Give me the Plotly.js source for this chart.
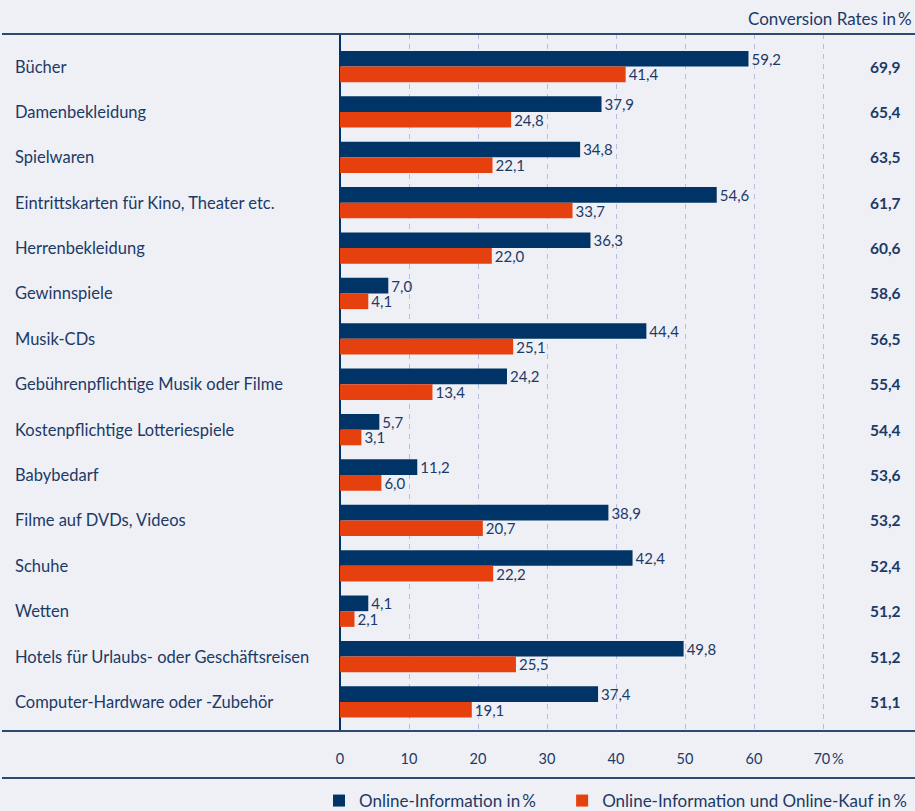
<!DOCTYPE html>
<html>
<head>
<meta charset="utf-8">
<script src="https://cdn.plot.ly/plotly-3.0.1.min.js"></script>
<style>
  html, body { margin: 0; padding: 0; background: #eff0f6; }
  #graph { width: 915px; height: 811px; }
</style>
</head>
<body>
<div id="graph"></div>
<script>
// カテゴリ
const categories = [
  "Bücher",
  "Damenbekleidung",
  "Spielwaren",
  "Eintrittskarten für Kino, Theater etc.",
  "Herrenbekleidung",
  "Gewinnspiele",
  "Musik-CDs",
  "Gebührenpflichtige Musik oder Filme",
  "Kostenpflichtige Lotteriespiele",
  "Babybedarf",
  "Filme auf DVDs, Videos",
  "Schuhe",
  "Wetten",
  "Hotels für Urlaubs- oder Geschäftsreisen",
  "Computer-Hardware oder -Zubehör"
];

// 系列の値
const infoValues = [59.2, 37.9, 34.8, 54.6, 36.3, 7.0, 44.4, 24.2, 5.7, 11.2, 38.9, 42.4, 4.1, 49.8, 37.4];
const kaufValues = [41.4, 24.8, 22.1, 33.7, 22.0, 4.1, 25.1, 13.4, 3.1, 6.0, 20.7, 22.2, 2.1, 25.5, 19.1];
const conversionRates = [69.9, 65.4, 63.5, 61.7, 60.6, 58.6, 56.5, 55.4, 54.4, 53.6, 53.2, 52.4, 51.2, 51.2, 51.1];

// 目盛り
const tickValues = [0, 10, 20, 30, 40, 50, 60, 70];
const tickLabels = ["0", "10", "20", "30", "40", "50", "60", "\u00a0\u00a0\u00a070\u2009%"];

// 色とフォント
const NAVY = "#003466";
const ORANGE = "#e6400e";
const TEXT = "#1c3a66";
const LINE = "#2c4a70";
const FONT = "Lato, 'Open Sans', sans-serif";

// 数値をドイツ式に整形
function fmt(v) {
  return v.toFixed(1).replace(".", ",");
}

document.addEventListener("DOMContentLoaded", () => {
  const graphDiv = document.getElementById("graph");

  // プロット領域の寸法
  const W = 915, H = 811;
  const mL = 340, mR = 0, mT = 34, mB = 80;
  const plotW = W - mL - mR;
  const plotH = H - mT - mB;
  const pxPerUnit = 6.9;

  const traceInfo = {
    type: "bar",
    orientation: "h",
    // 凡例の間隔を空けるため末尾に空白
    name: "Online-Information in\u2009%\u2003\u2002",
    y: categories,
    x: infoValues,
    marker: { color: NAVY },
    text: infoValues.map(fmt),
    textposition: "outside",
    constraintext: "none",
    cliponaxis: false,
    textfont: { color: TEXT, size: 15, family: FONT },
    hoverinfo: "skip"
  };

  const traceKauf = {
    type: "bar",
    orientation: "h",
    name: "Online-Information und Online-Kauf in\u2009%",
    y: categories,
    x: kaufValues,
    marker: { color: ORANGE },
    text: kaufValues.map(fmt),
    textposition: "outside",
    constraintext: "none",
    cliponaxis: false,
    textfont: { color: TEXT, size: 15, family: FONT },
    hoverinfo: "skip"
  };

  // カテゴリ名と Conversion Rate を注釈で配置
  const annotations = [];
  categories.forEach((c, i) => {
    annotations.push({
      xref: "paper", yref: "y",
      x: (13 - mL) / plotW, y: c,
      xanchor: "left", yanchor: "middle",
      text: c, showarrow: false,
      font: { color: TEXT, size: 16.5, family: FONT }
    });
    annotations.push({
      xref: "paper", yref: "y",
      x: (903 - mL) / plotW, y: c,
      xanchor: "right", yanchor: "middle",
      text: "<b>" + fmt(conversionRates[i]) + "</b>", showarrow: false,
      font: { color: TEXT, size: 15.5, family: FONT }
    });
  });
  annotations.push({
    xref: "paper", yref: "paper",
    x: (914 - mL) / plotW, y: (H - mB - 18) / plotH,
    xanchor: "right", yanchor: "middle",
    text: "Conversion Rates in\u2009%", showarrow: false,
    font: { color: TEXT, size: 17, family: FONT }
  });

  // 横線
  const lineY = [0, 1, (H - mB - 778) / plotH];
  const shapes = lineY.map(yy => ({
    type: "line", xref: "paper", yref: "paper",
    x0: (2 - mL) / plotW, x1: 1, y0: yy, y1: yy,
    line: { color: LINE, width: 2 }
  }));

  const layout = {
    width: W,
    height: H,
    margin: { l: mL, r: mR, t: mT, b: mB, pad: 0, autoexpand: false },
    paper_bgcolor: "#eff0f6",
    plot_bgcolor: "#eff0f6",
    font: { family: FONT, color: TEXT, size: 15 },
    barmode: "group",
    bargap: 0.31,
    bargroupgap: 0,
    xaxis: {
      range: [0, plotW / pxPerUnit],
      tickvals: tickValues,
      ticktext: tickLabels,
      ticks: "outside",
      ticklen: 15,
      tickcolor: "rgba(0,0,0,0)",
      tickfont: { size: 14.5, color: TEXT, family: FONT },
      showgrid: true,
      gridcolor: "#b8bcda",
      gridwidth: 1,
      griddash: "5px,5px",
      zeroline: true,
      zerolinecolor: NAVY,
      zerolinewidth: 1.5,
      showline: false,
      fixedrange: true
    },
    yaxis: {
      type: "category",
      range: [14.64, -0.717],
      showticklabels: false,
      showgrid: false,
      zeroline: false,
      showline: false,
      ticks: "",
      fixedrange: true
    },
    showlegend: true,
    legend: {
      orientation: "h",
      x: (319 - mL) / plotW, xanchor: "left",
      y: (H - mB - 801) / plotH, yanchor: "middle",
      font: { size: 17, color: TEXT, family: FONT },
      bgcolor: "rgba(0,0,0,0)",
      traceorder: "normal"
    },
    annotations: annotations,
    shapes: shapes
  };

  Plotly.newPlot(graphDiv, [traceInfo, traceKauf], layout, { displayModeBar: false, staticPlot: true });
});
</script>
</body>
</html>
